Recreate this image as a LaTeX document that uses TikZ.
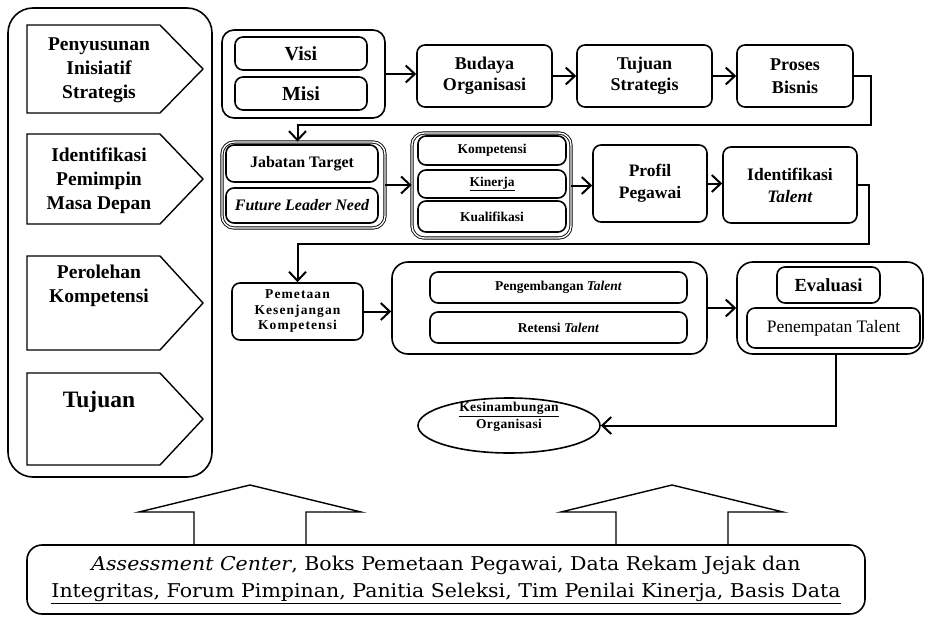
\documentclass[tikz,border=0pt]{standalone}
\usepackage{fontspec}
\setmainfont{Liberation Serif}
\newfontfamily\srcfont[FakeStretch=1.08]{DejaVu Serif}
\usetikzlibrary{arrows.meta, shapes.geometric}

\begin{document}
\begin{tikzpicture}[x=1pt, y=-1pt, line width=1.6pt,
    box/.style={draw, rounded corners=8pt, align=center, inner sep=0pt, font=\bfseries},
    group/.style={draw, rounded corners=12pt, inner sep=0pt},
    dbl/.style={draw, double, double distance=1.4pt, line width=0.9pt, rounded corners=12pt, inner sep=0pt},
    phase/.style={align=center, font=\bfseries\fontsize{19.5}{24}\selectfont},
    chev/.style={draw, line width=1.4pt},
    arr/.style={-{Straight Barb[length=9pt, width=17pt]}, line width=2pt}]
        \useasboundingbox (0,0) rectangle (926,618);
        % Phases on the left
        \node[draw, rounded corners=25pt, minimum width=204pt, minimum height=469pt] (phases) at (110,242.5) {};
        \foreach \t/\b in {25/113, 134/224, 256/350, 373/465}
            \draw[chev] (27,\t) -- (160,\t) -- (203,{(\t+\b)/2}) -- (160,\b) -- (27,\b) -- cycle;
        \node[phase] (pis) at (99,70) {Penyusunan\\Inisiatif\\Strategis};
        \node[phase] (ipm) at (99,181) {Identifikasi\\Pemimpin\\Masa Depan};
        \node[phase] (pkom) at (99,286) {Perolehan\\Kompetensi};
        \node[phase, font=\bfseries\fontsize{23.5}{28}\selectfont] (tuj) at (99,402) {Tujuan};
        % Row 1
        \node[group, minimum width=163pt, minimum height=88pt] (vm) at (303.5,74) {};
        \node[box, minimum width=132pt, minimum height=33pt, font=\bfseries\fontsize{20}{24}\selectfont] (visi) at (301,53.5) {Visi};
        \node[box, minimum width=132pt, minimum height=33pt, font=\bfseries\fontsize{20}{24}\selectfont] (misi) at (301,93.5) {Misi};
        \node[box, minimum width=135pt, minimum height=62pt, font=\bfseries\fontsize{18}{21}\selectfont] (bo) at (484.5,76) {Budaya\\Organisasi};
        \node[box, minimum width=135pt, minimum height=62pt, font=\bfseries\fontsize{18}{21}\selectfont] (ts) at (644.5,76) {Tujuan\\Strategis};
        \node[box, minimum width=116pt, minimum height=62pt, font=\bfseries\fontsize{18}{23}\selectfont] (pb) at (795,76) {Proses\\Bisnis};
        % Row 2
        \node[dbl, minimum width=163pt, minimum height=86pt] (jt) at (303.5,185) {};
        \node[box, minimum width=152pt, minimum height=37pt, font=\bfseries\fontsize{16}{20}\selectfont] (jab) at (302,163.5) {Jabatan Target};
        \node[box, minimum width=152pt, minimum height=35pt, font=\bfseries\itshape\fontsize{16}{20}\selectfont] (fln) at (302,205.5) {Future Leader Need};
        \node[dbl, minimum width=159pt, minimum height=105pt] (kk) at (491.5,185.5) {};
        \node[box, minimum width=148pt, minimum height=29pt, font=\bfseries\fontsize{13.5}{16}\selectfont] (kom) at (492,150.5) {Kompetensi};
        \node[box, minimum width=148pt, minimum height=28pt, font=\bfseries\fontsize{13.5}{16}\selectfont] (kin) at (492,184) {\underline{Kinerja}};
        \node[box, minimum width=148pt, minimum height=31pt, font=\bfseries\fontsize{13.5}{16}\selectfont] (kua) at (492,216.5) {Kualifikasi};
        \node[box, minimum width=114pt, minimum height=77pt, font=\bfseries\fontsize{17.5}{22}\selectfont] (pp) at (650,183.5) {Profil\\Pegawai};
        \node[box, minimum width=134pt, minimum height=76pt, font=\bfseries\fontsize{17.5}{22}\selectfont] (it) at (790,185) {Identifikasi\\\textit{Talent}};
        % Row 3
        \node[box, minimum width=131pt, minimum height=57pt, font=\bfseries\fontsize{13.5}{15.5}\selectfont\addfontfeature{LetterSpace=8}] (pkk) at (297.5,311.5) {Pemetaan\\Kesenjangan\\Kompetensi};
        \node[group, minimum width=315pt, minimum height=92pt, rounded corners=16pt] (pr) at (549.5,308) {};
        \node[box, minimum width=257pt, minimum height=31pt, font=\bfseries\fontsize{13.5}{16}\selectfont] (peng) at (558.5,287.5) {Pengembangan \textit{Talent}};
        \node[box, minimum width=257pt, minimum height=31pt, font=\bfseries\fontsize{13.5}{16}\selectfont] (ret) at (558.5,327.5) {Retensi \textit{Talent}};
        \node[group, minimum width=186pt, minimum height=92pt, rounded corners=16pt] (ev) at (830,308) {};
        \node[box, minimum width=103pt, minimum height=36pt, font=\bfseries\fontsize{18.5}{22}\selectfont] (eva) at (828.5,285) {Evaluasi};
        \node[box, minimum width=173pt, minimum height=40pt, font=\fontsize{17.5}{22}\selectfont] (pen) at (833.5,328) {Penempatan Talent};
        % Result
        \node[draw, ellipse, minimum width=182pt, minimum height=55pt] (ko) at (509,425.5) {};
        \node[align=center, font=\bfseries\fontsize{13.5}{17}\selectfont\addfontfeature{LetterSpace=3}] (kotxt) at (509,417) {\underline{Kesinambungan}\\Organisasi};
        % Sources
        \node[draw, rounded corners=15pt, minimum width=838pt, minimum height=69pt, align=center,
              font=\srcfont\fontsize{19}{27}\selectfont] (src) at (446,579.5)
              {\textit{Assessment Center}, Boks Pemetaan Pegawai, Data Rekam Jejak dan\\
               \underline{Integritas, Forum Pimpinan, Panitia Seleksi, Tim Penilai Kinerja, Basis Data}};
        \foreach \x in {250,672}
            \draw[line width=1.4pt] (\x-56,545) -- (\x-56,512) -- (\x-111,512) -- (\x,485) -- (\x+111,512) -- (\x+56,512) -- (\x+56,545);
        % Connectors
        \draw[arr] (vm.east) -- (vm.east -| bo.west);
        \draw[arr] (bo.east) -- (ts.west);
        \draw[arr] (ts.east) -- (pb.west);
        \draw[arr] (pb.east) -- ++(17pt,0) |- ([xshift=-6pt, yshift=17pt]jt.north) -- ([xshift=-6pt]jt.north);
        \draw[arr] (jt.east) -- (jt.east -| kk.west);
        \draw[arr] (kk.east) -- (kk.east -| pp.west);
        \draw[arr] (pp.east) -- (pp.east -| it.west);
        \draw[arr] (it.east) -- ++(11pt,0) |- ([yshift=38pt]pkk.north) -- (pkk.north);
        \draw[arr] (pkk.east) -- (pkk.east -| pr.west);
        \draw[arr] (pr.east) -- (pr.east -| ev.west);
        \draw[arr] ([xshift=6pt]ev.south) |- (ko.east);
\end{tikzpicture}
\end{document}
